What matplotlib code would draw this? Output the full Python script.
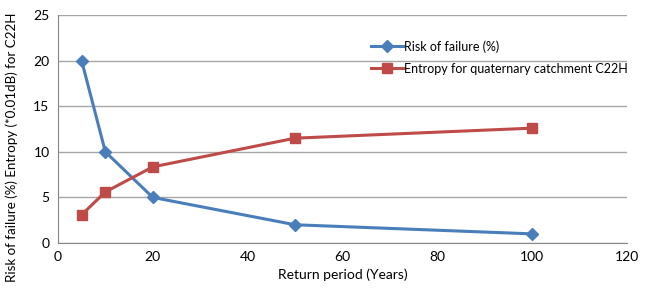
import matplotlib
matplotlib.use("Agg")
import matplotlib.pyplot as plt

return_period = [5, 10, 20, 50, 100]
risk_of_failure = [20, 10, 5, 2, 1]
entropy = [3.1, 5.6, 8.35, 11.5, 12.6]

plt.rcParams['font.family'] = ['Lato', 'DejaVu Sans']

fig = plt.figure(figsize=(6.51, 2.91), dpi=100)
ax = fig.add_axes([0.089, 0.165, 0.874, 0.783])

ax.plot(return_period, risk_of_failure, color='#4a7ebb', lw=2.2, marker='D', ms=6,
        label='Risk of failure (%)')
ax.plot(return_period, entropy, color='#be4b48', lw=2.2, marker='s', ms=7,
        label='Entropy for quaternary catchment C22H')

ax.set_xlim(0, 120)
ax.set_ylim(0, 25)
ax.set_xticks(range(0, 121, 20))
ax.set_yticks(range(0, 26, 5))
ax.grid(axis='y', color='#a6a6a6', lw=1)
ax.set_axisbelow(True)
for s in ['top', 'right']:
    ax.spines[s].set_visible(False)
for s in ['left', 'bottom']:
    ax.spines[s].set_color('#868686')
ax.tick_params(labelsize=10, length=0, pad=6, colors='#000000')
ax.set_xlabel('Return period (Years)', fontsize=10)
ax.set_ylabel('Risk of failure (%) Entropy (*0.01dB) for C22H', fontsize=9.6)
ax.yaxis.set_label_coords(-0.07, 0.42)

ax.legend(loc='upper left', bbox_to_anchor=(0.53, 0.94), frameon=False, fontsize=9,
          handlelength=2.6, labelspacing=0.8, handletextpad=0.1)

fig.savefig('out.png', dpi=100)
